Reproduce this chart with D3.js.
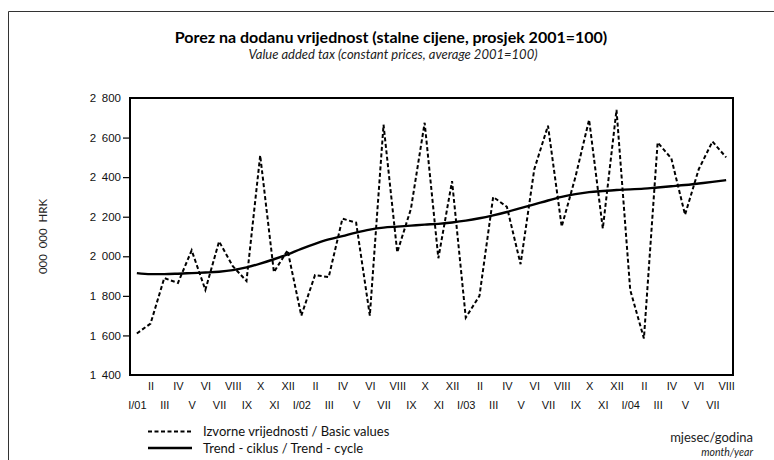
<!DOCTYPE html>
<html>
<head>
<meta charset="utf-8">
<script src="https://cdn.jsdelivr.net/npm/d3@7"></script>
<style>
  body { margin: 0; background: #fff; }
  svg { display: block; font-family: "Lato", "Open Sans", sans-serif; }
  .ylab text { font-size: 11.5px; fill: #111; }
  .xlab text { font-size: 11px; fill: #111; }
</style>
</head>
<body>
<script>
// months I/01 .. VIII/04
var romans = ["I", "II", "III", "IV", "V", "VI", "VII", "VIII", "IX", "X", "XI", "XII"];
var years = ["01", "02", "03", "04"];
var months = [];
years.forEach(function (y) {
    romans.forEach(function (r, i) { months.push(i === 0 ? "I/" + y : r); });
});
months = months.slice(0, 44);

// izvorne vrijednosti / basic values
var basicValues = [1610, 1660, 1890, 1865, 2030, 1830, 2075, 1950, 1875, 2510, 1920, 2030,
    1700, 1905, 1895, 2190, 2170, 1700, 2665, 2020, 2240, 2675, 1990, 2380,
    1690, 1800, 2300, 2250, 1960, 2440, 2660, 2150, 2400, 2690, 2140, 2740,
    1830, 1585, 2575, 2495, 2210, 2440, 2580, 2500];
// trend - ciklus / trend - cycle
var trendValues = [1915, 1910, 1910, 1912, 1915, 1918, 1922, 1930, 1944, 1963, 1985, 2010,
    2038, 2063, 2085, 2102, 2120, 2135, 2145, 2150, 2155, 2160, 2164, 2171,
    2180, 2192, 2207, 2224, 2243, 2262, 2282, 2300, 2314, 2324, 2330, 2335,
    2338, 2342, 2348, 2354, 2360, 2368, 2376, 2385];
var yTicks = [1400, 1600, 1800, 2000, 2200, 2400, 2600, 2800];

var W = 774, H = 460;
var L = 130, R = 733, T = 98, B = 375;

var svg = d3.select("body").append("svg").attr("width", W).attr("height", H);

// outer frame (top + left only)
svg.append("path")
    .attr("d", "M8.5,460 V11.5 H774")
    .attr("fill", "none").attr("stroke", "#333").attr("stroke-width", 1);

svg.append("text")
    .attr("x", 391).attr("y", 43).attr("text-anchor", "middle")
    .attr("font-size", "16px").attr("font-weight", "bold")
    .text("Porez na dodanu vrijednost (stalne cijene, prosjek 2001=100)");
svg.append("text")
    .attr("x", 393).attr("y", 59).attr("text-anchor", "middle")
    .attr("font-size", "13px").attr("font-style", "italic").attr("fill", "#222")
    .text("Value added tax (constant prices, average 2001=100)");

var x = d3.scalePoint().domain(d3.range(months.length)).range([L, R]).padding(0.5);
var y = d3.scaleLinear().domain([1400, 2800]).range([B, T]);

// thousands separated by a wide space: "2 800"
var fmt = d3.formatLocale({ decimal: ",", thousands: "\u2002", grouping: [3], currency: ["", ""] }).format(",d");

var yAxis = svg.append("g").attr("class", "ylab")
    .attr("transform", "translate(" + L + ",0)")
    .call(d3.axisLeft(y).tickValues(yTicks).tickSize(7).tickPadding(2).tickFormat(fmt));
yAxis.select(".domain").remove();
yAxis.selectAll(".tick line").attr("stroke", "#000").attr("stroke-width", 1.2)
    .filter(function (d) { return d === 1400 || d === 2800; }).remove();
yAxis.selectAll(".tick text").attr("fill", "#111");

svg.append("text")
    .attr("transform", "translate(47," + ((T + B) / 2) + ") rotate(-90)")
    .attr("text-anchor", "middle").attr("font-size", "11.5px").attr("fill", "#222")
    .text("000\u2002000\u2002HRK");

// x labels in two rows
var xAxis = svg.append("g").attr("class", "xlab")
    .attr("transform", "translate(0," + B + ")")
    .call(d3.axisBottom(x).tickSize(0).tickFormat(function (i) { return months[i]; }));
xAxis.select(".domain").remove();
xAxis.selectAll(".tick text")
    .attr("fill", "#111")
    .attr("dy", null)
    .attr("y", function (i) { return i % 2 === 1 ? 15 : 34; });

// plot frame
svg.append("rect")
    .attr("x", L).attr("y", T).attr("width", R - L).attr("height", B - T)
    .attr("fill", "none").attr("stroke", "#000").attr("stroke-width", 2);

var line = d3.line().x(function (d, i) { return x(i); }).y(function (d) { return y(d); });
var smooth = d3.line().curve(d3.curveMonotoneX).x(function (d, i) { return x(i); }).y(function (d) { return y(d); });

svg.append("path").datum(trendValues)
    .attr("d", smooth).attr("fill", "none").attr("stroke", "#000").attr("stroke-width", 2.4);
svg.append("path").datum(basicValues)
    .attr("d", line).attr("fill", "none").attr("stroke", "#000").attr("stroke-width", 2)
    .attr("stroke-dasharray", "4,2.5");

// legend
var legend = [
    { label: "Izvorne vrijednosti / Basic values", dash: "4,2.5", w: 2 },
    { label: "Trend - ciklus / Trend - cycle", dash: null, w: 2.4 }
];
legend.forEach(function (d, k) {
    var ly = 431.5 + k * 16.5;
    svg.append("line").attr("x1", 148).attr("x2", 192).attr("y1", ly).attr("y2", ly)
        .attr("stroke", "#000").attr("stroke-width", d.w).attr("stroke-dasharray", d.dash);
    svg.append("text").attr("x", 203).attr("y", ly + 4.5).attr("font-size", "13px").attr("fill", "#111")
        .text(d.label);
});

svg.append("text").attr("x", 753).attr("y", 442).attr("text-anchor", "end")
    .attr("font-size", "13px").attr("fill", "#222").text("mjesec/godina");
svg.append("text").attr("x", 753).attr("y", 456).attr("text-anchor", "end")
    .attr("font-size", "10.5px").attr("font-style", "italic").attr("fill", "#222").text("month/year");
</script>
</body>
</html>
